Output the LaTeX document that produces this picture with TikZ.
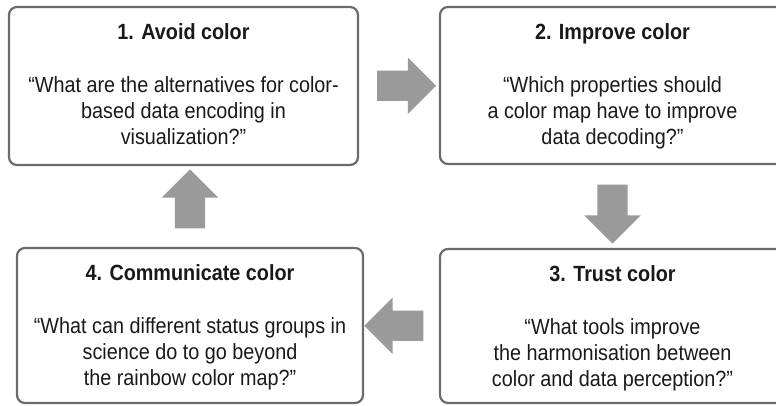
\documentclass[tikz,border=0pt]{standalone}
\usepackage{fontspec}
\setmainfont{Liberation Sans}[FakeStretch=0.9]
\usetikzlibrary{shapes,arrows,positioning,calc}
\definecolor{framegray}{HTML}{6B6B6B}
\definecolor{arrowgray}{HTML}{9A9A9A}

\begin{document}
\begin{tikzpicture}[
    x=1pt, y=-1pt,
    stage/.style={draw=framegray, line width=2.2pt, rounded corners=8pt, inner sep=0pt},
    heading/.style={font=\fontsize{22}{26}\selectfont\bfseries, text=black!90, anchor=base, inner sep=0pt},
    question/.style={font=\fontsize{22}{26}\selectfont, text=black!90, align=center, anchor=base, inner sep=0pt},
    blockarrow/.style={single arrow, fill=arrowgray, draw=none, minimum height=59pt,
        text height=15pt, text depth=15pt, text width=0pt,
        single arrow head extend=13pt, single arrow tip angle=90, single arrow head indent=0pt, inner sep=0pt}
]
\useasboundingbox (0,0) rectangle (776,406);

% the four stages
\node[stage, minimum width=349pt, minimum height=158pt] (box1) at (183.5,86) {};
\node[stage, minimum width=345pt, minimum height=157pt] (box2) at (612.5,85.5) {};
\node[stage, minimum width=345pt, minimum height=154pt] (box3) at (612.5,326) {};
\node[stage, minimum width=346pt, minimum height=155pt] (box4) at (190,325.5) {};

\node[heading] (head1) at ([yshift=-34pt]box1.north) {1. Avoid color};
\node[heading] (head2) at ([yshift=-34pt]box2.north) {2. Improve color};
\node[heading] (head3) at ([yshift=-34pt]box3.north) {3. Trust color};
\node[heading] (head4) at ([yshift=-34pt]box4.north) {4. Communicate color};

% base = last line of the question
\node[question] (ask1) at ([yshift=-139pt]box1.north) {“What are the alternatives for color-\\based data encoding in\\visualization?”};
\node[question] (ask2) at ([yshift=-139pt]box2.north) {“Which properties should\\a color map have to improve\\data decoding?”};
\node[question] (ask3) at ([yshift=-139pt]box3.north) {“What tools improve\\the harmonisation between\\color and data perception?”};
\node[question] (ask4) at ([yshift=-139pt]box4.north) {“What can different status groups in\\science do to go beyond\\the rainbow color map?”};

% arrows between the stages
\node[blockarrow] (step12) at ($(box1.east)!0.5!(box2.west)$) {};
\node[blockarrow, rotate=-90] (step23) at ($(box2.south)!0.5!(box3.north)$) {};
\node[blockarrow, rotate=180] (step34) at ($(box3.west)!0.5!(box4.east)$) {};
\node[blockarrow, rotate=90] (step41) at ($(box4.north)!0.5!(box4.north |- box1.south)$) {};
\end{tikzpicture}
\end{document}
